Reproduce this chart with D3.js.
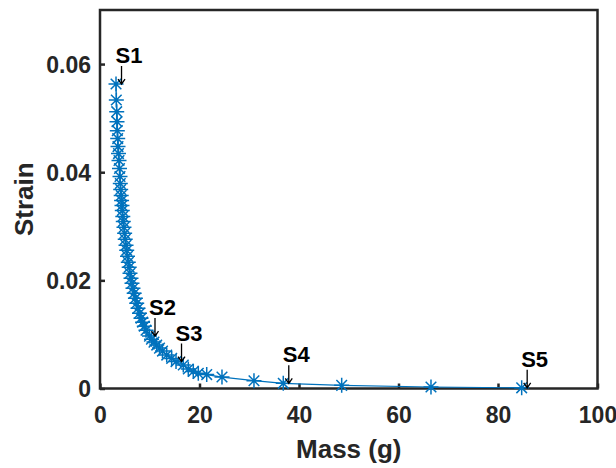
<!DOCTYPE html>
<html>
<head>
<meta charset="utf-8">
<script src="https://cdn.jsdelivr.net/npm/d3@7"></script>
<style>
  html, body { margin: 0; padding: 0; background: #fff; }
  svg { display: block; }
  text { font-family: "Liberation Sans", Arial, Helvetica, sans-serif; font-weight: bold; fill: #262626; }
</style>
</head>
<body>
<svg id="chart" width="616" height="468"></svg>
<script>
// Measured mass (g) and resulting strain
const mass = [
  3.22, 3.28, 3.36, 3.42, 3.48, 3.56, 3.62, 3.72, 3.82, 3.92,
  4.02, 4.08, 4.16, 4.26, 4.34, 4.42, 4.48, 4.58, 4.68, 4.82,
  4.95, 5.07, 5.23, 5.37, 5.53, 5.69, 5.87, 6.03, 6.23, 6.43,
  6.63, 6.87, 7.12, 7.38, 7.64, 7.94, 8.24, 8.56, 8.91, 9.25,
  9.95, 10.35, 10.85, 11.40, 11.96, 12.56, 13.41, 14.41, 15.28, 16.74,
  17.75, 18.75, 19.76, 21.45, 24.52, 30.95, 36.84, 48.58, 66.53, 84.76
];
const strain = [
  0.05631, 0.05336, 0.05120, 0.04935, 0.04769, 0.04622, 0.04474, 0.04345, 0.04216, 0.04068,
  0.03921, 0.03792, 0.03681, 0.03570, 0.03478, 0.03386, 0.03293, 0.03183, 0.03090, 0.02980,
  0.02869, 0.02758, 0.02648, 0.02555, 0.02445, 0.02334, 0.02242, 0.02131, 0.02039, 0.01946,
  0.01854, 0.01762, 0.01670, 0.01577, 0.01485, 0.01393, 0.01301, 0.01227, 0.01153, 0.01079,
  0.00969, 0.00913, 0.00858, 0.00803, 0.00747, 0.00692, 0.00618, 0.00557, 0.00498, 0.00434,
  0.00360, 0.00314, 0.00280, 0.00258, 0.00212, 0.00144, 0.00096, 0.00058, 0.00028, 0.00012
];

// Labelled samples: index into the series above
const sampleNames = ["S1", "S2", "S3", "S4", "S5"];
const sampleIndex = [0, 40, 48, 56, 59];

const xTicks = [0, 20, 40, 60, 80, 100];
const yTicks = [0, 0.02, 0.04, 0.06];

const xLabel = "Mass (g)";
const yLabel = "Strain";

const svg = d3.select("#chart");
const plotLeft = 100, plotRight = 597.5, plotTop = 10, plotBottom = 388.5;

const x = d3.scaleLinear().domain([0, 100]).range([plotLeft, plotRight]);
const y = d3.scaleLinear().domain([0, 0.07]).range([plotBottom, plotTop]);

const data = mass.map((m, i) => ({ m, s: strain[i] }));
const axisColor = "#262626";
const blue = "#0072BD";

// Axes with inward ticks
const xAxis = svg.append("g")
  .attr("transform", `translate(0,${plotBottom})`)
  .call(d3.axisBottom(x).tickValues(xTicks).tickSizeInner(-5).tickSizeOuter(0)
        .tickFormat(d3.format("d")));
const yAxis = svg.append("g")
  .attr("transform", `translate(${plotLeft},0)`)
  .call(d3.axisLeft(y).tickValues(yTicks).tickSizeInner(-5).tickSizeOuter(0)
        .tickFormat(d => d === 0 ? "0" : d3.format(".2f")(d)));

[xAxis, yAxis].forEach(g => {
  g.select(".domain").remove();
  g.selectAll(".tick line").attr("stroke", axisColor).attr("stroke-width", 2.5);
  g.selectAll(".tick text").attr("fill", axisColor)
    .style("font-size", "23px").style("font-weight", "bold")
    .style("font-family", '"Liberation Sans", Arial, sans-serif');
});
xAxis.selectAll(".tick text").attr("y", 18).attr("dy", "0.71em");
yAxis.selectAll(".tick text").attr("x", -9).attr("dy", "0.36em");

// Box around the plot area
svg.append("rect")
  .attr("x", plotLeft).attr("y", plotTop)
  .attr("width", plotRight - plotLeft).attr("height", plotBottom - plotTop)
  .attr("fill", "none").attr("stroke", axisColor).attr("stroke-width", 2.5);

// Connecting line
svg.append("path")
  .datum(data)
  .attr("fill", "none").attr("stroke", blue).attr("stroke-width", 1.2)
  .attr("d", d3.line().x(d => x(d.m)).y(d => y(d.s)));

// Asterisk markers
const r = 7.5, rd = r * 0.7071;
const star = `M${-r},0L${r},0M0,${-r}L0,${r}M${-rd},${-rd}L${rd},${rd}M${-rd},${rd}L${rd},${-rd}`;
svg.append("g").selectAll("path")
  .data(data)
  .join("path")
  .attr("transform", d => `translate(${x(d.m)},${y(d.s)})`)
  .attr("d", star)
  .attr("fill", "none").attr("stroke", blue).attr("stroke-width", 1.5);

// Sample annotations: name above a down arrow
const notes = svg.append("g");
sampleIndex.forEach((idx, k) => {
  const px = x(mass[idx]), py = y(strain[idx]);
  const ax = px + 5.5;
  notes.append("text")
    .attr("x", px - 0.5).attr("y", py - 21)
    .style("fill", "#000")
    .style("font-size", "22px")
    .text(sampleNames[k]);
  notes.append("path")
    .attr("d", `M${ax},${py - 18}L${ax},${py}M${ax - 3.5},${py - 5}L${ax},${py}L${ax + 3.5},${py - 5}`)
    .attr("fill", "none").attr("stroke", "#000").attr("stroke-width", 1.3);
});

// Axis titles
svg.append("text")
  .attr("x", (plotLeft + plotRight) / 2).attr("y", 458)
  .attr("text-anchor", "middle")
  .style("font-size", "26px")
  .text(xLabel);
svg.append("text")
  .attr("transform", `translate(33,${(plotTop + plotBottom) / 2}) rotate(-90)`)
  .attr("text-anchor", "middle")
  .style("font-size", "26px")
  .text(yLabel);
</script>
</body>
</html>
